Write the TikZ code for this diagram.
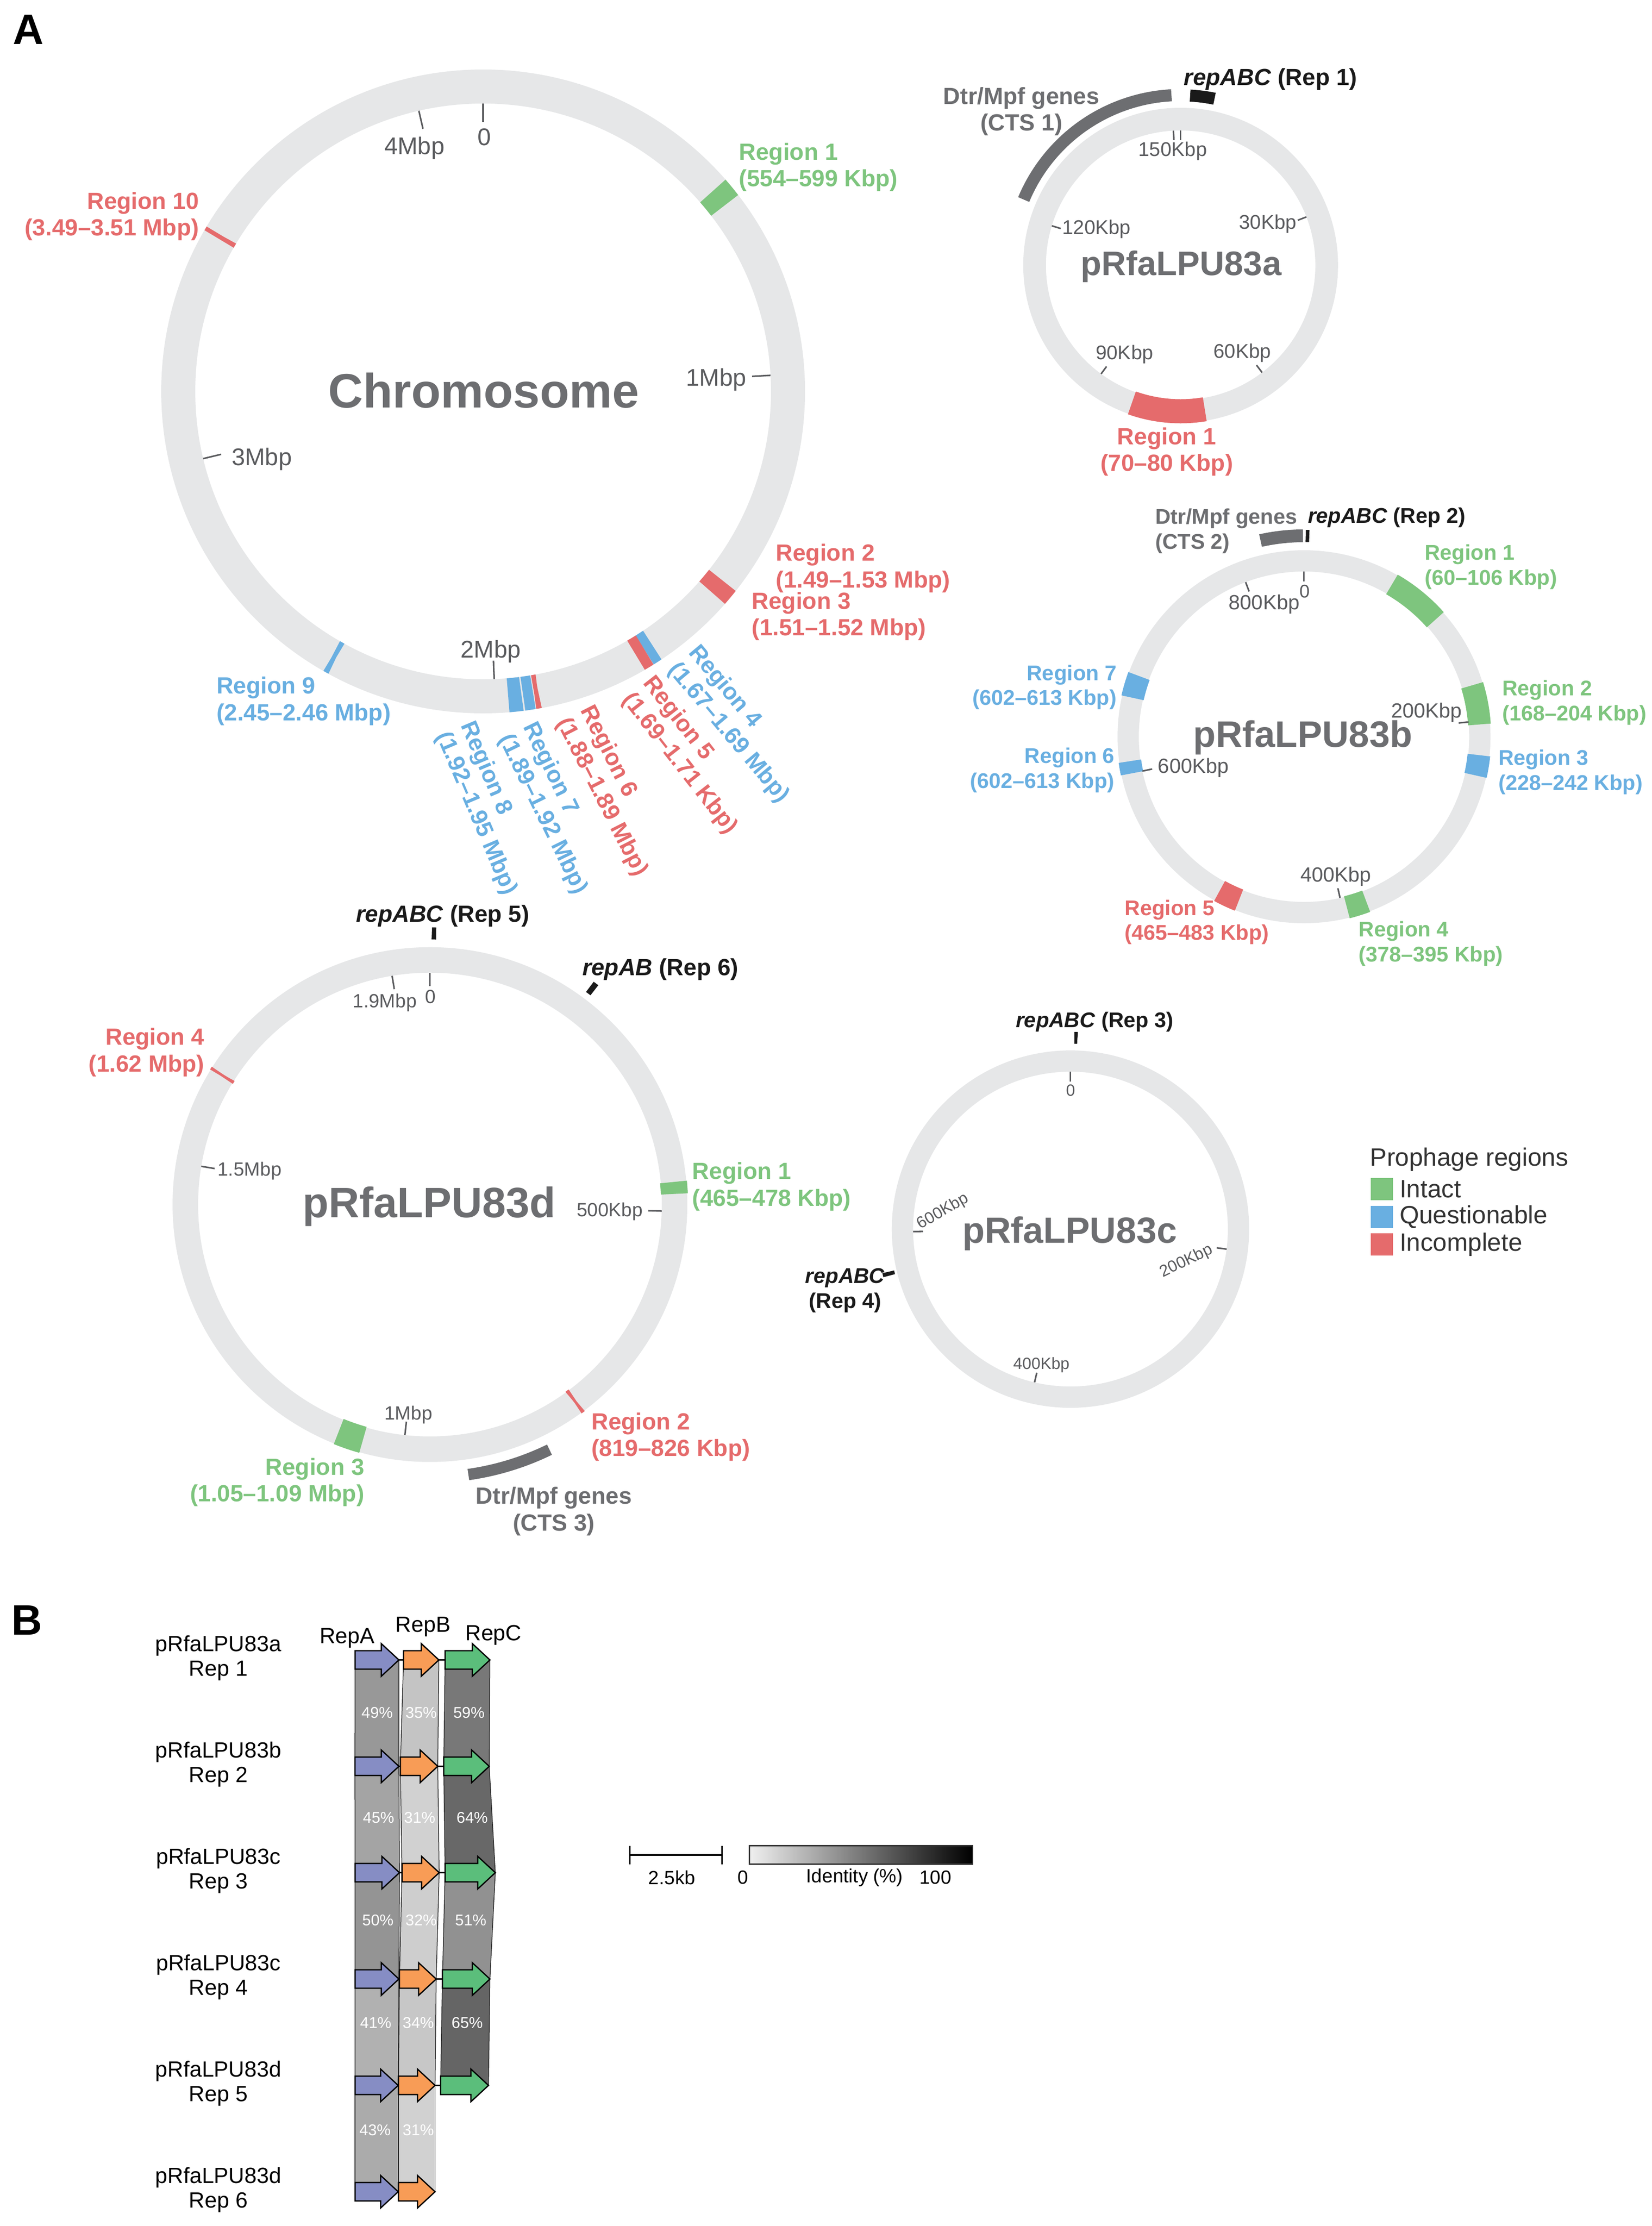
\documentclass[tikz,border=0pt]{standalone}
\usepackage{fontspec}
\setmainfont{Liberation Sans}
\definecolor{ringgray}{HTML}{E6E7E8}
\definecolor{txtgray}{HTML}{6D6E71}
\definecolor{tickc}{HTML}{5A5B5E}
\definecolor{cgreen}{HTML}{7EC57E}
\definecolor{cblue}{HTML}{69AFE1}
\definecolor{cred}{HTML}{E56B6C}
\definecolor{cdark}{HTML}{1A1A1A}
\definecolor{ctsgray}{HTML}{6D6E71}
\definecolor{legtxt}{HTML}{333333}
\definecolor{colA}{HTML}{868DC4}
\definecolor{colB}{HTML}{F89C56}
\definecolor{colC}{HTML}{5BBE7B}
\newcommand\seg[7]{\draw[line width=#6pt,#7] plot[variable=\t,domain=#4:#5,samples=40] ({#1+#3*sin(\t)},{#2-#3*cos(\t)});}
\newcommand\tk[5]{\draw[tickl] ({#1+#3*sin(#5)},{#2-#3*cos(#5)}) -- ({#1+#4*sin(#5)},{#2-#4*cos(#5)});}
\newcommand\garrow[4]{\draw[garr,fill=#4] (#1,{#3-6.5}) -- ({#2-12.4},{#3-6.5}) -- ({#2-12.4},{#3-11.5}) -- (#2,#3) -- ({#2-12.4},{#3+11.5}) -- ({#2-12.4},{#3+6.5}) -- (#1,{#3+6.5}) -- cycle;}
\newcommand\ribbon[7]{\draw[rib,fill=#7] (#1,#3) -- (#2,#3) -- (#5,#6) -- (#4,#6) -- cycle;}
\tikzset{
  rl/.style={inner sep=0pt,font=\bfseries\fontsize{16.5}{18.8}\selectfont},
  rls/.style={inner sep=0pt,font=\bfseries\fontsize{15}{17.6}\selectfont},
  tkl/.style={inner sep=0pt,text=tickc,font=\fontsize{#1}{#1}\selectfont},
  tkl/.default=14,
  tickl/.style={draw=tickc,line width=1.1pt},
  garr/.style={draw=black,line width=0.9pt,line join=miter},
  rib/.style={draw=black!85,line width=0.5pt},
  pct/.style={inner sep=0pt,text=white,font=\fontsize{11}{11}\selectfont},
  blab/.style={inner sep=0pt,font=\fontsize{15.5}{17.3}\selectfont,align=center},
  pname/.style={inner sep=0pt,text=txtgray,font=\bfseries\fontsize{#1}{#1}\selectfont},
  legt/.style={inner sep=0pt,text=legtxt,font=\fontsize{17.7}{17.7}\selectfont,anchor=west},
  sbt/.style={inner sep=0pt,font=\fontsize{13.5}{13.5}\selectfont},
}
\begin{document}
\begin{tikzpicture}[x=1pt,y=-1pt]
\fill[white] (0,0) rectangle (1165,1569.67);
\useasboundingbox (0,0) rectangle (1165,1569.67);

% panel letters
\node[inner sep=0pt,font=\bfseries\fontsize{30}{30}\selectfont] (pA) at (20,21) {A};
\node[inner sep=0pt,font=\bfseries\fontsize{30}{30}\selectfont] (pB) at (19,1142.5) {B};

% ================= Chromosome =================
\draw[ringgray,line width=24pt] (340.7,276) circle[radius=215];
\seg{340.7}{276}{215}{48.9}{52.4}{24}{cgreen}
\seg{340.7}{276}{215}{128.3}{131.3}{24}{cred}
\seg{340.7}{276}{215}{146.3}{148.0}{24}{cblue}
\seg{340.7}{276}{215}{148.0}{149.9}{24}{cred}
\seg{340.7}{276}{215}{169.6}{170.4}{24}{cred}
\seg{340.7}{276}{215}{170.6}{172.5}{24}{cblue}
\seg{340.7}{276}{215}{172.8}{175.3}{24}{cblue}
\seg{340.7}{276}{215}{208.9}{209.7}{24}{cblue}
\seg{340.7}{276}{215}{300.0}{300.8}{24}{cred}
\tk{340.7}{276}{190}{203}{0}
\tk{340.7}{276}{190}{203}{347.1}
\tk{340.7}{276}{190}{203}{86.8}
\tk{340.7}{276}{190}{203}{177.8}
\tk{340.7}{276}{190}{203}{256.5}
\node[pname=34] (chrname) at (341.2,275.3) {Chromosome};
\node[tkl=17] (ct0) at (341.6,96.5) {0};
\node[tkl=17] (ct4) at (292.3,104.6) {4Mbp};
\node[tkl=17] (ct1) at (505,267.7) {1Mbp};
\node[tkl=17] (ct3) at (184.6,323.9) {3Mbp};
\node[tkl=17] (ct2) at (346.1,459.4) {2Mbp};
\node[rl,text=cgreen,anchor=west,align=left] (cr1) at (521,117.8) {Region 1\\(554–599 Kbp)};
\node[rl,text=cred,anchor=east,align=right] (cr10) at (140.5,152.5) {Region 10\\(3.49–3.51 Mbp)};
\node[rl,text=cred,anchor=west,align=left] (cr2) at (547,400.7) {Region 2\\(1.49–1.53 Mbp)};
\node[rl,text=cred,anchor=west,align=left] (cr3) at (530,434.5) {Region 3\\(1.51–1.52 Mbp)};
\node[rl,text=cblue,anchor=west,align=left] (cr9) at (152.5,494.4) {Region 9\\(2.45–2.46 Mbp)};
\node[rl,text=cblue,rotate=-50,align=left] (cr4) at (520.7,510.8) {Region 4\\(1.67–1.69 Mbp)};
\node[rl,text=cred,rotate=-52,align=left] (cr5) at (486.5,532.7) {Region 5\\(1.69–1.71 Kbp)};
\node[rl,text=cred,rotate=-63,align=left] (cr6) at (432.5,557.9) {Region 6\\(1.88–1.89 Mbp)};
\node[rl,text=cblue,rotate=-64,align=left] (cr7) at (391,570.1) {Region 7\\(1.89–1.92 Mbp)};
\node[rl,text=cblue,rotate=-67,align=left] (cr8) at (344.2,570) {Region 8\\(1.92–1.95 Mbp)};

% ================= pRfaLPU83a =================
\draw[ringgray,line width=16pt] (832.6,187) circle[radius=103];
\seg{832.6}{187}{103}{170.5}{199.5}{17}{cred}
\seg{832.6}{187}{120}{292.7}{356.9}{8.5}{ctsgray}
\seg{832.6}{187}{119.8}{3.2}{11.5}{8.5}{cdark}
\tk{832.6}{187}{88.5}{95}{0}
\tk{832.6}{187}{88.5}{95}{356.9}
\tk{832.6}{187}{88.5}{95}{69}
\tk{832.6}{187}{88.5}{95}{142.8}
\tk{832.6}{187}{88.5}{95}{216.2}
\tk{832.6}{187}{88.5}{95}{287}
\node[pname=24] (aname) at (833,188) {pRfaLPU83a};
\node[tkl=14] (at150) at (827,106.5) {150Kbp};
\node[tkl=14] (at30) at (894,158) {30Kbp};
\node[tkl=14] (at120) at (773.3,161.6) {120Kbp};
\node[tkl=14] (at90) at (793,250) {90Kbp};
\node[tkl=14] (at60) at (876,249) {60Kbp};
\node[rl,text=txtgray,align=center] (adtr) at (720.3,78.5) {Dtr/Mpf genes\\(CTS 1)};
\node[rl,text=cdark] (arep) at (896,56) {\textit{repABC} (Rep 1)};
\node[rl,text=cred,align=center] (ar1) at (822.8,318.5) {Region 1\\(70–80 Kbp)};

% ================= pRfaLPU83b =================
\draw[ringgray,line width=15pt] (919.6,519.5) circle[radius=124];
\seg{919.6}{519.5}{124}{30}{48.3}{16}{cgreen}
\seg{919.6}{519.5}{124}{73}{86}{16}{cgreen}
\seg{919.6}{519.5}{124}{96}{102.7}{16}{cblue}
\seg{919.6}{519.5}{124}{159.3}{165.9}{16}{cgreen}
\seg{919.6}{519.5}{124}{201.7}{208.7}{16}{cred}
\seg{919.6}{519.5}{124}{258}{262}{16}{cblue}
\seg{919.6}{519.5}{124}{282.8}{290.2}{16}{cblue}
\seg{919.6}{519.5}{141.7}{347.5}{359.7}{9}{ctsgray}
\seg{919.6}{519.5}{141.6}{0.5}{1.5}{8.5}{cdark}
\tk{919.6}{519.5}{109.5}{116.5}{0}
\tk{919.6}{519.5}{109.5}{116.5}{84.9}
\tk{919.6}{519.5}{109.5}{116.5}{167.4}
\tk{919.6}{519.5}{109.5}{116.5}{258}
\tk{919.6}{519.5}{109.5}{116.5}{339.3}
\node[pname=26] (bname) at (918.8,520) {pRfaLPU83b};
\node[tkl=13] (bt0) at (920,417) {0};
\node[tkl=14.5] (bt800) at (891.5,426) {800Kbp};
\node[tkl=14.5] (bt200) at (1006,502.5) {200Kbp};
\node[tkl=14.5] (bt400) at (942,618) {400Kbp};
\node[tkl=14.5] (bt600) at (841.6,541.3) {600Kbp};
\node[rls,text=txtgray,anchor=west,align=left] (bdtr) at (814.5,374.4) {Dtr/Mpf genes\\(CTS 2)};
\node[rls,text=cdark,anchor=west] (brep) at (922.2,365) {\textit{repABC} (Rep 2)};
\node[rls,text=cgreen,anchor=west,align=left] (br1) at (1004.5,399.7) {Region 1\\(60–106 Kbp)};
\node[rls,text=cgreen,anchor=west,align=left] (br2) at (1059.2,495.5) {Region 2\\(168–204 Kbp)};
\node[rls,text=cblue,anchor=west,align=left] (br3) at (1056.5,544.5) {Region 3\\(228–242 Kbp)};
\node[rls,text=cgreen,anchor=west,align=left] (br4) at (958,665.4) {Region 4\\(378–395 Kbp)};
\node[rls,text=cred,anchor=west,align=left] (br5) at (793,650.3) {Region 5\\(465–483 Kbp)};
\node[rls,text=cblue,anchor=east,align=right] (br7) at (787.7,484.6) {Region 7\\(602–613 Kbp)};
\node[rls,text=cblue,anchor=east,align=right] (br6) at (786.2,543) {Region 6\\(602–613 Kbp)};

% ================= pRfaLPU83d =================
\draw[ringgray,line width=18pt] (303.2,849.4) circle[radius=172.5];
\seg{303.2}{849.4}{172.5}{84.7}{87.5}{19}{cgreen}
\seg{303.2}{849.4}{172.5}{143.3}{143.9}{19}{cred}
\seg{303.2}{849.4}{172.5}{195.9}{201.9}{19}{cgreen}
\seg{303.2}{849.4}{172.5}{301.6}{302.2}{19}{cred}
\seg{303.2}{849.4}{192.3}{154}{171.9}{8}{ctsgray}
\seg{303.2}{849.4}{191.2}{0.4}{1.3}{8.5}{cdark}
\seg{303.2}{849.4}{190.5}{36.3}{37.5}{9}{cdark}
\tk{303.2}{849.4}{154}{163.5}{0}
\tk{303.2}{849.4}{154}{163.5}{91.6}
\tk{303.2}{849.4}{154}{163.5}{186.2}
\tk{303.2}{849.4}{154}{163.5}{279.5}
\tk{303.2}{849.4}{154}{163.5}{350.6}
\node[pname=30] (dname) at (302.6,850.6) {pRfaLPU83d};
\node[tkl=13.5] (dt0) at (303.5,703) {0};
\node[tkl=13.5] (dt19) at (271.4,707) {1.9Mbp};
\node[tkl=13.5] (dt15) at (176,825.8) {1.5Mbp};
\node[tkl=13.5] (dt500) at (430,854.3) {500Kbp};
\node[tkl=13.5] (dt1) at (288,997.5) {1Mbp};
\node[rl,text=cdark] (drep5) at (312.2,646) {\textit{repABC} (Rep 5)};
\node[rl,text=cdark,anchor=west] (drep6) at (410.5,683.7) {\textit{repAB} (Rep 6)};
\node[rl,text=cred,anchor=east,align=right] (dr4) at (144.3,742) {Region 4\\(1.62 Mbp)};
\node[rl,text=cgreen,anchor=west,align=left] (dr1) at (488.1,836.7) {Region 1\\(465–478 Kbp)};
\node[rl,text=cred,anchor=west,align=left] (dr2) at (416.9,1013.2) {Region 2\\(819–826 Kbp)};
\node[rl,text=cgreen,anchor=east,align=right] (dr3) at (257.1,1045.2) {Region 3\\(1.05–1.09 Mbp)};
\node[rl,text=txtgray,align=center] (ddtr) at (390.6,1065.7) {Dtr/Mpf genes\\(CTS 3)};

% ================= pRfaLPU83c =================
\draw[ringgray,line width=15pt] (754.9,866.7) circle[radius=118.5];
\seg{754.9}{866.7}{134.9}{1.2}{2.1}{8.3}{cdark}
\seg{754.9}{866.7}{132}{255.6}{256.8}{8.5}{cdark}
\tk{754.9}{866.7}{104}{111}{0}
\tk{754.9}{866.7}{104}{111}{97.3}
\tk{754.9}{866.7}{104}{111}{193.2}
\tk{754.9}{866.7}{104}{111}{269.1}
\node[pname=25.7] (cname) at (754.4,869.8) {pRfaLPU83c};
\node[tkl=11.5] (c0) at (755,768.8) {0};
\node[tkl=11.5,rotate=26] (c200) at (836.7,889.4) {200Kbp};
\node[tkl=11.5] (c400) at (734.4,962.6) {400Kbp};
\node[tkl=11.5,rotate=30] (c600) at (665,854.4) {600Kbp};
\node[rls,text=cdark] (crep3) at (772,720.6) {\textit{repABC} (Rep 3)};
\node[rls,text=cdark,align=center] (crep4) at (596,910) {\textit{repABC}\\(Rep 4)};

% ================= Legend =================
\node[legt] (legtitle) at (966,817.5) {Prophage regions};
\fill[cgreen] (966.6,830.7) rectangle (982.2,846.4);
\fill[cblue] (966.6,850.2) rectangle (982.2,865.9);
\fill[cred] (966.6,869.7) rectangle (982.2,885.3);
\node[legt] (legi) at (986.8,838.5) {Intact};
\node[legt] (legq) at (986.8,858) {Questionable};
\node[legt] (legc) at (986.8,877.5) {Incomplete};

% ================= Panel B =================
% ribbons
\ribbon{250.4}{281.3}{1170.5}{250.3}{281.3}{1245.5}{black!40.5}
\ribbon{284.6}{309.5}{1170.5}{282.3}{308.7}{1245.5}{black!23}
\ribbon{313.9}{345.5}{1170.5}{312.9}{345.0}{1245.5}{black!53}
\ribbon{250.3}{281.3}{1245.5}{250.4}{281.7}{1320.5}{black!35.5}
\ribbon{282.3}{308.7}{1245.5}{283.5}{309.7}{1320.5}{black!18}
\ribbon{312.9}{345.0}{1245.5}{313.9}{349.3}{1320.5}{black!59.3}
\ribbon{250.4}{281.7}{1320.5}{250.4}{281.3}{1395.5}{black!41.8}
\ribbon{283.5}{309.7}{1320.5}{281.7}{307.6}{1395.5}{black!19.3}
\ribbon{313.9}{349.3}{1320.5}{312.0}{345.5}{1395.5}{black!43}
\ribbon{250.4}{281.3}{1395.5}{250.4}{280.8}{1470.5}{black!30.5}
\ribbon{281.7}{307.6}{1395.5}{281.0}{306.8}{1470.5}{black!21.8}
\ribbon{312.0}{345.5}{1395.5}{310.7}{344.5}{1470.5}{black!60.5}
\ribbon{250.4}{280.8}{1470.5}{250.4}{280.8}{1545.5}{black!33}
\ribbon{281.0}{306.8}{1470.5}{281.0}{306.8}{1545.5}{black!18}
% backbones
\draw[line width=0.9pt] (250.4,1170.5) -- (345.5,1170.5);
\draw[line width=0.9pt] (250.3,1245.5) -- (345.0,1245.5);
\draw[line width=0.9pt] (250.4,1320.5) -- (349.3,1320.5);
\draw[line width=0.9pt] (250.4,1395.5) -- (345.5,1395.5);
\draw[line width=0.9pt] (250.4,1470.5) -- (344.5,1470.5);
\draw[line width=0.9pt] (250.4,1545.5) -- (306.8,1545.5);
% arrows
\garrow{250.4}{281.3}{1170.5}{colA}
\garrow{284.6}{309.5}{1170.5}{colB}
\garrow{313.9}{345.5}{1170.5}{colC}
\garrow{250.3}{281.3}{1245.5}{colA}
\garrow{282.3}{308.7}{1245.5}{colB}
\garrow{312.9}{345.0}{1245.5}{colC}
\garrow{250.4}{281.7}{1320.5}{colA}
\garrow{283.5}{309.7}{1320.5}{colB}
\garrow{313.9}{349.3}{1320.5}{colC}
\garrow{250.4}{281.3}{1395.5}{colA}
\garrow{281.7}{307.6}{1395.5}{colB}
\garrow{312.0}{345.5}{1395.5}{colC}
\garrow{250.4}{280.8}{1470.5}{colA}
\garrow{281.0}{306.8}{1470.5}{colB}
\garrow{310.7}{344.5}{1470.5}{colC}
\garrow{250.4}{280.8}{1545.5}{colA}
\garrow{281.0}{306.8}{1545.5}{colB}
% percentages
\node[pct] (p1a) at (266,1207.7) {49\%};
\node[pct] (p1b) at (297,1207.7) {35\%};
\node[pct] (p1c) at (330.7,1207.7) {59\%};
\node[pct] (p2a) at (267,1281.7) {45\%};
\node[pct] (p2b) at (296,1281.7) {31\%};
\node[pct] (p2c) at (333,1281.7) {64\%};
\node[pct] (p3a) at (266.5,1354) {50\%};
\node[pct] (p3b) at (297,1354) {32\%};
\node[pct] (p3c) at (332,1354) {51\%};
\node[pct] (p4a) at (265,1426.4) {41\%};
\node[pct] (p4b) at (295,1426.4) {34\%};
\node[pct] (p4c) at (329.5,1426.4) {65\%};
\node[pct] (p5a) at (264.5,1502) {43\%};
\node[pct] (p5b) at (295,1502) {31\%};
% gene names
\node[inner sep=0pt,font=\fontsize{15.5}{15.5}\selectfont] (gA) at (244.8,1155) {RepA};
\node[inner sep=0pt,font=\fontsize{15.5}{15.5}\selectfont] (gB) at (298.3,1147) {RepB};
\node[inner sep=0pt,font=\fontsize{15.5}{15.5}\selectfont] (gC) at (348,1153) {RepC};
% row labels
\node[blab] (l1) at (154,1169.2) {pRfaLPU83a\\Rep 1};
\node[blab] (l2) at (154,1244.2) {pRfaLPU83b\\Rep 2};
\node[blab] (l3) at (154,1319.2) {pRfaLPU83c\\Rep 3};
\node[blab] (l4) at (154,1394.2) {pRfaLPU83c\\Rep 4};
\node[blab] (l5) at (154,1469.2) {pRfaLPU83d\\Rep 5};
\node[blab] (l6) at (154,1544.2) {pRfaLPU83d\\Rep 6};
% scale bar and colour key
\draw[line width=1.1pt] (444.2,1308) -- (509.1,1308);
\draw[line width=1.1pt] (444.2,1301.5) -- (444.2,1314.5);
\draw[line width=1.1pt] (509.1,1301.5) -- (509.1,1314.5);
\shade[left color=white!94!black,right color=black] (528.5,1301.5) rectangle (686,1314.5);
\draw[line width=0.7pt,black!80] (528.5,1301.5) rectangle (686,1314.5);
\node[sbt] (sb) at (473.8,1324) {2.5kb};
\node[sbt] (k0) at (524,1324) {0};
\node[sbt] (kid) at (602.7,1324) {Identity (\%)};
\node[sbt] (k100) at (659.6,1324) {100};
\end{tikzpicture}
\end{document}
